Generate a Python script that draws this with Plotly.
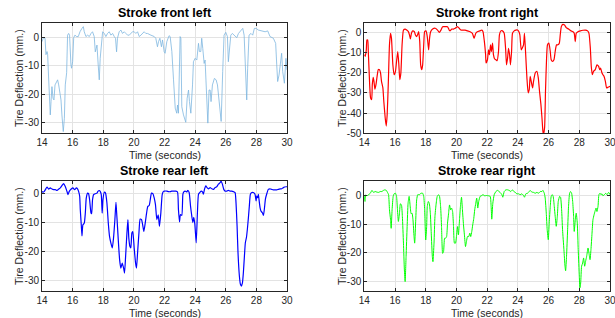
import plotly.graph_objects as go

# ---------------- data ----------------
FL_t = [14.00,14.09,14.20,14.26,14.33,14.37,14.43,14.50,14.54,14.59,
        14.65,14.72,14.78,14.85,14.91,15.02,15.09,15.17,15.24,15.30,
        15.39,15.46,15.52,15.61,15.67,15.74,15.80,15.89,15.93,16.00,
        16.07,16.15,16.26,16.37,16.48,16.61,16.70,16.76,16.87,16.98,
        17.09,17.20,17.30,17.41,17.48,17.54,17.59,17.67,17.74,17.80,
        17.89,17.96,18.07,18.17,18.28,18.39,18.50,18.61,18.72,18.80,
        18.87,18.93,19.04,19.15,19.26,19.37,19.48,19.59,19.70,19.80,
        19.91,20.02,20.13,20.24,20.35,20.46,20.57,20.67,20.78,20.89,
        21.11,21.33,21.43,21.54,21.61,21.70,21.80,21.87,21.98,
        22.04,22.15,22.30,22.37,22.48,22.59,22.70,22.80,22.85,22.91,
        23.02,23.07,23.13,23.24,23.39,23.48,23.57,23.63,23.72,23.83,
        23.89,24.00,24.11,24.22,24.28,24.37,24.43,24.50,24.59,24.65,
        24.72,24.83,24.91,24.98,25.04,25.13,25.26,25.37,25.46,25.57,
        25.63,25.70,25.80,25.89,26.00,26.11,26.17,26.24,26.33,26.43,
        26.57,26.72,26.83,27.00,27.11,27.20,27.30,27.37,27.43,27.52,
        27.65,27.76,27.87,27.98,28.13,28.35,28.57,28.74,28.89,29.11,
        29.26,29.33,29.39,29.48,29.54,29.65,29.72,29.83,29.93,30.00]
FL_v = [-1.4,0,-0.2,-6,-4.9,-6,-13.9,-21.4,-27.3,-22.6,
        -17.3,-21.4,-22,-16.7,-16.1,-14.9,-16.7,-20.2,-22,-27.3,
        -33.2,-28.5,-16.7,-12.4,0.9,1.5,0.9,-9.6,-10.8,-8.5,
        0,0.9,0.4,0.4,2.1,3.3,3.9,2.1,0.4,0.9,
        0.4,1.5,2.1,0.4,-5,-3.8,-2.6,-9.6,-14.9,-7.3,
        -0.2,2.1,1.5,0.4,1.5,2.1,0.9,1.5,0.4,-0.2,
        -5,-0.2,2.1,2.7,1.5,2.1,1.5,0.9,0.9,1.5,
        2.1,2.1,1.5,2.1,0.4,0.9,1.5,2.1,1.5,1.5,
        0.9,0.4,-0.2,-3.2,-1.4,-0.2,-3.2,-0.8,-5,
        -5.5,-1.4,0.7,0.4,-4.9,-14.9,-24.9,-26.7,-23.8,-26.7,
        0.4,-0.2,-24.4,-27.3,-29.9,-21.4,-18.5,-22.6,-26.7,-16.7,
        -8.5,-7.3,-7.9,-2,-4.9,-4.9,-0.2,-3.8,-9.1,-7.9,
        -16.7,-30.2,-18.5,-18.5,-22.6,-16.7,-14.4,-14.9,-16.7,-22.6,
        -26.7,-29.6,-12,0.9,1.9,0.4,-8.5,-4.4,0.9,1.5,
        0.9,0,1.5,2.7,3.3,0.9,-9.6,-22,-10.8,0.9,
        1.5,0.9,3.3,3.3,2.7,2.4,2.1,2.4,0.4,-0.2,
        -2,-9.6,-15.5,-13.2,-9.6,-5.5,-12,-16.1,-7.3,-11.4]

FR_t = [14.00,14.06,14.13,14.17,14.22,14.26,14.35,14.41,14.48,14.52,
        14.58,14.63,14.69,14.76,14.82,14.91,14.99,15.06,15.12,15.21,
        15.27,15.36,15.43,15.49,15.56,15.64,15.71,15.77,15.86,15.94,
        16.03,16.10,16.18,16.25,16.31,16.38,16.46,16.55,16.66,16.76,
        16.87,16.94,17.00,17.07,17.15,17.26,17.33,17.41,17.48,17.54,
        17.61,17.67,17.74,17.80,17.87,17.93,18.02,18.10,18.19,18.25,
        18.32,18.45,18.62,18.77,18.88,18.99,19.10,19.27,19.42,19.53,
        19.59,19.70,19.81,19.92,20.07,20.18,20.29,20.39,20.57,20.72,
        20.89,21.04,21.15,21.26,21.36,21.52,21.65,21.73,21.82,21.90,
        21.93,22.02,22.09,22.15,22.22,22.28,22.35,22.41,22.48,22.57,
        22.65,22.74,22.80,22.89,23.00,23.11,23.20,23.26,23.33,23.39,
        23.46,23.52,23.59,23.65,23.76,23.87,23.98,24.07,24.13,24.22,
        24.28,24.37,24.43,24.50,24.59,24.67,24.74,24.80,24.87,24.96,
        25.02,25.13,25.24,25.33,25.41,25.50,25.57,25.63,25.67,25.74,
        25.80,25.87,25.93,26.02,26.11,26.17,26.26,26.35,26.43,26.52,
        26.61,26.70,26.76,26.83,26.93,27.04,27.15,27.30,27.46,27.59,
        27.67,27.74,27.80,27.91,28.07,28.24,28.39,28.54,28.63,28.72,
        28.78,28.85,28.93,29.04,29.15,29.26,29.33,29.39,29.48,29.54,
        29.61,29.70,29.78,29.87,30.00]
FR_v = [-11.1,-11.9,-8.7,-3.8,-3.8,-9.3,-25.9,-32.5,-33.3,-25.9,
        -22.3,-24.3,-28.2,-25.9,-22.6,-18.5,-18.5,-20.2,-24.3,-27.5,
        -34.1,-42.3,-46.4,-40.7,-25.9,-6.2,-0.5,-3,-16.1,-21,
        -19.3,-14.4,-9.5,-16.1,-23.4,-20.2,-6.2,1.1,1.6,1.1,
        0.3,-1.3,-3.3,-0.5,0.7,0.3,-1.3,-2.1,-1,0.3,
        -4.6,-16.1,-18.5,-16.1,-6.2,0.3,0.7,-2.1,-8.7,-3,
        0.3,1.6,2,1.1,0,1.1,2.8,2.8,2.8,1.1,
        0.7,1.6,1.6,2,2.8,2,1.1,1.1,1.1,0.7,
        0.3,-0.5,-3,-0.5,0.3,0.7,1.1,0.3,-4.6,-11.1,
        -15.2,-13.6,-8.7,-11.1,-6.2,-9.5,-5.4,-11.1,-13.1,-13.6,
        -14.1,-9.5,-1.3,0.7,0.7,-0.5,-7.9,-16.1,-12.8,-7.9,
        -11.1,-16.1,-9.5,-0.5,0.7,1.1,1.1,0.3,-1.3,-8.7,
        -7.9,-6.2,-0.5,-9.5,-22.6,-30,-28.4,-21.8,-24.3,-27.5,
        -24.3,-20.2,-19.3,-22.6,-29.2,-35.7,-42.3,-48.9,-50.5,-47.2,
        -29.2,-12.8,-6.2,-5.4,-9.5,-13.6,-14.4,-13.6,-9.5,-6.2,
        -6.2,-5.4,-1.3,2.8,3.9,3.6,2.3,1.6,0.7,0.3,
        -0.5,-4.6,-0.5,0.3,0.7,1,1.1,0.7,-0.5,-7.9,
        -16.9,-21,-19.3,-18.5,-16.1,-16.9,-18.5,-17.7,-20.2,-21,
        -21.8,-24.3,-27.5,-27.2,-26.7]

RL_t = [14.00,14.07,14.15,14.22,14.33,14.43,14.54,14.65,14.76,14.87,
        14.98,15.09,15.20,15.30,15.41,15.52,15.63,15.70,15.78,15.91,
        16.02,16.13,16.24,16.33,16.39,16.46,16.50,16.57,16.61,16.67,
        16.76,16.83,16.89,16.98,17.04,17.11,17.20,17.24,17.30,17.37,
        17.48,17.59,17.65,17.74,17.80,17.87,17.93,17.98,18.07,18.15,
        18.24,18.33,18.41,18.50,18.59,18.67,18.76,18.83,18.89,18.98,
        19.07,19.15,19.24,19.33,19.39,19.46,19.54,19.61,19.67,19.74,
        19.80,19.87,19.93,20.02,20.11,20.17,20.24,20.33,20.41,20.50,
        20.59,20.65,20.74,20.83,20.91,21.00,21.07,21.15,21.24,21.33,
        21.41,21.50,21.59,21.67,21.76,21.85,21.93,22.00,
        22.15,22.26,22.37,22.48,22.59,22.74,22.85,22.91,22.98,23.04,
        23.13,23.20,23.26,23.35,23.46,23.52,23.61,23.70,23.78,23.85,
        23.91,23.98,24.07,24.15,24.22,24.30,24.39,24.48,24.54,24.61,
        24.70,24.78,24.87,24.98,25.09,25.20,25.30,25.41,25.52,25.63,
        25.70,25.78,25.87,25.96,26.07,26.17,26.28,26.39,26.50,26.61,
        26.67,26.74,26.80,26.89,26.96,27.02,27.09,27.15,27.22,27.28,
        27.35,27.41,27.48,27.54,27.61,27.70,27.80,27.91,27.98,28.02,
        28.09,28.13,28.17,28.24,28.30,28.39,28.46,28.52,28.59,28.67,
        28.78,28.89,29.00,29.11,29.22,29.33,29.43,29.54,29.65,29.76,
        29.91,30.00]
RL_v = [0.9,0.6,0.9,1.5,2.4,1.7,2.1,1.7,1.5,1.5,
        1.2,1.7,2.1,2.9,3.6,2.6,0.9,-0.2,0.9,1.7,
        2.1,1.5,2.1,1.7,0.9,-0.8,-5.4,-11.2,-14.5,-10.7,
        -10.1,-6.6,-1.4,0.3,0.1,-2,-6.6,-6.8,-2,-0.2,
        0.1,0.3,0.9,1.2,0.9,-0.2,-6.6,-2,0.6,0.3,
        -3.1,-10.1,-14.7,-17,-18.7,-15.3,-8.9,-2.9,-7.8,-15.8,
        -22.8,-25.7,-23.9,-25.7,-27.4,-21.6,-14.1,-8.9,-15.3,-18.1,
        -18.7,-13.5,-13,-18.7,-23.9,-25.7,-20.5,-13.5,-8.7,-8.9,
        -11.2,-13,-10.1,-6.6,-4.3,-4,-2,0.3,0.1,-1.4,
        -3.7,-8.9,-7.2,-11.2,-6.6,-0.2,0.9,1.0,
        1.0,0.8,0.8,1.0,1.0,1.0,0.7,-5.3,-9.7,-7.1,
        -7.4,-0.1,0.7,1.0,0.7,1.3,0.5,-4.2,-7.6,-9.9,
        -8.1,-10.4,-16.9,-6.5,-0.1,0.5,1.0,0.7,-0.1,1.6,
        2.8,2.2,1.8,2.2,1.8,1.6,2.2,2.5,3.4,3.9,
        4.5,3.4,1.6,1.0,1.0,1.3,1.0,1.0,0.8,0.5,
        -3.0,-11.1,-20.3,-28.4,-31.3,-31.9,-30.8,-27.3,-21.5,-16.9,
        -15.1,-12.3,-8.2,-4.2,-0.1,0.5,0.5,-0.1,-2.4,-0.7,
        -1.3,-0.1,-1.8,-4.7,-5.9,-6.5,-7.4,-5.3,-1.8,-0.1,
        1.6,1.8,1.6,1.4,1.4,1.4,1.6,1.8,1.8,2.2,
        2.5,2.5]

RR_t = [14.00,14.04,14.09,14.17,14.28,14.39,14.50,14.60,14.71,14.82,
        14.93,15.04,15.14,15.25,15.34,15.43,15.51,15.58,15.64,15.71,
        15.75,15.81,15.88,15.94,16.03,16.10,16.16,16.22,16.29,16.35,
        16.42,16.48,16.55,16.61,16.66,16.72,16.79,16.85,16.92,16.98,
        17.05,17.11,17.17,17.24,17.28,17.35,17.41,17.48,17.59,17.69,
        17.80,17.87,17.93,18.00,18.06,18.10,18.17,18.23,18.30,18.36,
        18.43,18.47,18.54,18.60,18.67,18.75,18.84,18.90,18.97,19.03,
        19.10,19.16,19.23,19.29,19.36,19.42,19.49,19.55,19.62,19.68,
        19.75,19.81,19.87,19.94,20.00,20.07,20.13,20.20,20.26,20.33,
        20.39,20.46,20.52,20.59,20.65,20.72,20.80,20.87,20.93,21.00,
        21.06,21.13,21.19,21.26,21.32,21.39,21.45,21.54,21.62,21.73,
        21.84,21.95,
        22.09,22.20,22.26,22.30,22.37,22.46,22.57,22.67,22.78,22.89,
        22.96,23.02,23.11,23.22,23.33,23.43,23.54,23.65,23.74,23.83,
        23.93,24.04,24.15,24.26,24.37,24.43,24.52,24.63,24.74,24.80,
        24.91,25.02,25.13,25.24,25.35,25.46,25.57,25.63,25.72,25.78,
        25.85,25.91,25.98,26.04,26.11,26.17,26.24,26.30,26.37,26.43,
        26.50,26.57,26.63,26.72,26.78,26.85,26.91,27.00,27.07,27.11,
        27.17,27.24,27.30,27.37,27.43,27.50,27.57,27.63,27.67,27.74,
        27.80,27.87,27.93,28.00,28.04,28.09,28.15,28.22,28.28,28.35,
        28.41,28.48,28.57,28.63,28.70,28.76,28.83,28.89,28.96,29.02,
        29.09,29.15,29.22,29.28,29.35,29.41,29.48,29.54,29.63,29.72,
        29.80,29.91,30.00]
RR_v = [0,-2,0.3,0,0.4,0.9,1.9,1.2,1.5,1.3,
        1.2,1.5,1.5,1.9,2.1,1.9,1.2,0.4,-4.9,-8.4,
        -11.4,-4.9,-0.2,0.7,0.9,-0.2,-4.9,-9,-6.1,-2.8,
        -3.2,-7.3,-16.6,-26,-30.1,-21.3,-10.8,-2.6,-0.2,-3.2,
        -6.3,-6.1,-8.4,-14.3,-16.6,-8.4,-1.4,0.4,0.4,0.9,
        0.9,-0.2,-4.9,-15.5,-10.8,-3.8,-2,-2.6,-6.1,-13.1,
        -21.3,-23.1,-16.6,-7.3,-3.2,-0.2,0.4,-0.2,-3.8,-10.8,
        -20.2,-19.6,-14.9,-14.9,-14.3,-9.6,-6.1,-3.2,-4.9,-4.3,
        -5.5,-10.8,-16.6,-16.6,-14.3,-10.8,-13.7,-8.4,-3.8,-0.5,
        -4.9,-10.2,-13.7,-17.8,-16.1,-14.3,-14.3,-13.1,-14.3,-12.5,
        -10.2,-7.9,-4.9,-2.6,-0.8,-4.3,-2,-0.2,0,0.4,
        0,0.1,
        0,-0.2,-3.7,-8.2,-2.6,0.4,1.5,1.9,1.5,0.9,
        0.4,-0.5,1.5,2.1,2.1,1.9,1.5,2.1,1.5,1.2,
        0.7,0.7,0.4,0.7,0.1,-0.5,0.7,0.9,1.5,1.9,
        1.3,1.2,0.9,1.2,0.9,1.5,1.5,1.9,0.9,-0.8,
        -6.1,-11.9,-15.4,-9.6,-3.7,-0.2,0.4,-0.2,-3.7,-7.2,
        -10.7,-7.2,-2,-0.2,-0.5,-4.9,-11.9,-18.9,-24.7,-26.3,
        -21.2,-11.9,-3.7,0.9,1.5,0.9,-2,-7.2,-12.5,-8.4,
        -6.1,-9.6,-18.9,-28.2,-32.3,-30.6,-24.7,-23.6,-21.8,-24.7,
        -23,-21.2,-18.3,-20.1,-22.4,-18.9,-13.1,-8.4,-6.7,-5.5,
        -4.3,-5.5,-3.7,0.4,0.9,0.4,0.7,0,0.4,0.9,
        0.4,1.2,0.4]

titles = ["Stroke front left", "Stroke front right", "Stroke rear left", "Stroke rear right"]
x_ticks = [14, 16, 18, 20, 22, 24, 26, 28, 30]
y_ticks_30 = [-30, -20, -10, 0]
y_ticks_50 = [-50, -40, -30, -20, -10, 0]
x_title = "Time (seconds)"
y_title = "Tire Deflection (mm.)"

# ---------------- layout ----------------
W, H = 615, 318
FONT = "Liberation Sans"
TXT = "#262626"

def px_x(a, b):
    return [a / W, b / W]

def px_y(top, bot):
    return [1 - bot / H, 1 - top / H]

panels = [
    dict(x=px_x(42, 287), y=px_y(22.7, 133.3), yr=[-33.8, 5.3], yt=y_ticks_30,
         t=FL_t, v=FL_v, c="#7DB6E0", w=0.8, shape="linear", ylab_x=19),
    dict(x=px_x(364.3, 610), y=px_y(22.7, 133.3), yr=[-50, 4.75], yt=y_ticks_50,
         t=FR_t, v=FR_v, c="#FF0000", w=1.2, shape="spline", ylab_x=342),
    dict(x=px_x(42, 287), y=px_y(180.7, 291.3), yr=[-33.7, 4.6], yt=y_ticks_30,
         t=RL_t, v=RL_v, c="#0000FF", w=1.2, shape="spline", ylab_x=19),
    dict(x=px_x(364.3, 610), y=px_y(180.7, 291.3), yr=[-33.5, 5.3], yt=y_ticks_30,
         t=RR_t, v=RR_v, c="#00FF00", w=1.0, shape="spline", ylab_x=342),
]

fig = go.Figure()
annotations = []
layout = dict(
    width=W, height=H, margin=dict(l=0, r=0, t=0, b=0, pad=0),
    paper_bgcolor="white", plot_bgcolor="white", showlegend=False,
    font=dict(family=FONT, size=10, color=TXT),
)

for i, p in enumerate(panels):
    n = "" if i == 0 else str(i + 1)
    xa, ya = "x" + n, "y" + n
    fig.add_trace(go.Scatter(
        x=p["t"], y=p["v"], mode="lines", xaxis=xa, yaxis=ya,
        line=dict(color=p["c"], width=p["w"], shape=p["shape"], smoothing=0.5),
        hoverinfo="skip"))
    common = dict(showline=True, linecolor=TXT, linewidth=1, mirror="ticks",
                  ticks="inside", ticklen=3, tickcolor=TXT, tickwidth=1,
                  showgrid=True, gridcolor="#E3E3E3", gridwidth=1, zeroline=False,
                  automargin=False, ticklabeloverflow="allow",
                  tickfont=dict(family=FONT, size=10, color=TXT), fixedrange=True)
    layout["xaxis" + n] = dict(common, domain=p["x"], range=[14, 30], tickvals=x_ticks,
                               ticktext=[str(v) for v in x_ticks], anchor=ya)
    layout["yaxis" + n] = dict(common, domain=p["y"], range=p["yr"], tickvals=p["yt"],
                               ticktext=[str(v) for v in p["yt"]], anchor=xa)
    xc = (p["x"][0] + p["x"][1]) / 2
    yc = (p["y"][0] + p["y"][1]) / 2
    top_px = (1 - p["y"][1]) * H
    bot_px = (1 - p["y"][0]) * H
    annotations.append(dict(text="<b>" + titles[i] + "</b>", x=xc, y=1 - (top_px - 9.5) / H,
                            xref="paper", yref="paper", showarrow=False,
                            xanchor="center", yanchor="middle",
                            font=dict(family=FONT, size=12.5, color="black")))
    annotations.append(dict(text=x_title, x=xc, y=1 - (bot_px + 21.5) / H,
                            xref="paper", yref="paper", showarrow=False,
                            xanchor="center", yanchor="middle",
                            font=dict(family=FONT, size=10.5, color=TXT)))
    annotations.append(dict(text=y_title, x=p["ylab_x"] / W, y=yc,
                            xref="paper", yref="paper", showarrow=False, textangle=-90,
                            xanchor="center", yanchor="middle",
                            font=dict(family=FONT, size=10.5, color=TXT)))

layout["annotations"] = annotations
fig.update_layout(**layout)
fig.write_html("out.html",
               config={"displayModeBar": False, "staticPlot": True},
               post_script="document.body.style.margin='0';document.body.style.overflow='hidden';")
